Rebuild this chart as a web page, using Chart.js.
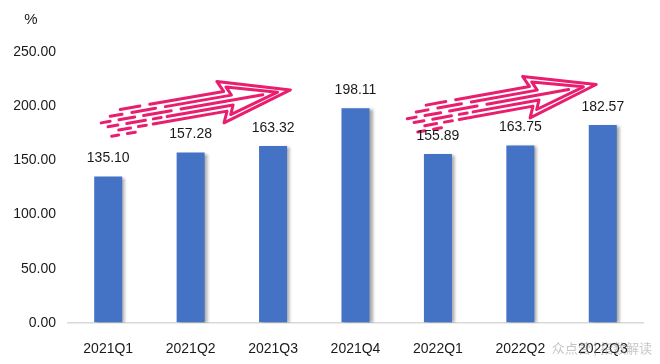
<!DOCTYPE html>
<html>
<head>
<meta charset="utf-8">
<script src="https://cdn.jsdelivr.net/npm/chart.js@4/dist/chart.umd.min.js"></script>
<style>
html,body{margin:0;padding:0;background:#fff;}
#wrap{width:660px;height:364px;}
</style>
</head>
<body>
<div id="wrap"><canvas id="c" width="660" height="364"></canvas></div>
<script>
const categories = ['2021Q1','2021Q2','2021Q3','2021Q4','2022Q1','2022Q2','2022Q3'];
const values = [135.10, 157.28, 163.32, 198.11, 155.89, 163.75, 182.57];
const yTicks = [0, 50, 100, 150, 200, 250];
const unitLabel = '%';
const watermark = '众点营 | 指数解读';
// decorative arrows: [tail category, tail value, tip category, tip value]
const arrows = [[0.02, 186, 2.21, 215], [3.74, 190, 5.92, 220]];

const FONT = '"Liberation Sans", Arial, sans-serif';
const PINK = '#E91E6E';

function drawArrow(ctx, x0, y0, x1, y1) {
  const L = Math.hypot(x1 - x0, y1 - y0);
  const ang = Math.atan2(y1 - y0, x1 - x0);
  ctx.save();
  ctx.translate(x0, y0);
  ctx.rotate(ang);
  ctx.strokeStyle = PINK;
  ctx.lineWidth = 3;
  ctx.lineCap = 'round';
  ctx.lineJoin = 'round';
  const hb = L - 66;
  // outer outline
  ctx.beginPath();
  ctx.moveTo(hb - 75, -10);
  ctx.lineTo(hb, -10);
  ctx.lineTo(hb - 5, -21);
  ctx.lineTo(L, 0);
  ctx.lineTo(hb - 5, 21);
  ctx.lineTo(hb, 10);
  ctx.lineTo(hb - 75, 10);
  ctx.stroke();
  // inner outline
  ctx.beginPath();
  ctx.moveTo(hb - 60, -5);
  ctx.lineTo(hb + 7, -5);
  ctx.lineTo(hb + 3, -14);
  ctx.lineTo(L - 13, 0);
  ctx.lineTo(hb + 3, 14);
  ctx.lineTo(hb + 7, 5);
  ctx.lineTo(hb - 60, 5);
  ctx.stroke();
  // centre line
  ctx.beginPath();
  ctx.moveTo(hb - 45, 0);
  ctx.lineTo(L - 28, 0);
  ctx.stroke();
  // tail dashes
  const rows = [
    [-10, [[hb - 105, hb - 85]]],
    [-5, [[hb - 116, hb - 104], [hb - 94, hb - 70]]],
    [0, [[hb - 126, hb - 117], [hb - 108, hb - 92], [hb - 83, hb - 55]]],
    [5, [[hb - 120, hb - 110], [hb - 101, hb - 82], [hb - 74, hb - 66]]],
    [10, [[hb - 110, hb - 98], [hb - 90, hb - 82]]],
    [15, [[hb - 118, hb - 111], [hb - 102, hb - 94]]]
  ];
  rows.forEach(([v, segs]) => {
    segs.forEach(([a, b]) => {
      ctx.beginPath();
      ctx.moveTo(a, v);
      ctx.lineTo(b, v);
      ctx.stroke();
    });
  });
  ctx.restore();
}

const decoPlugin = {
  id: 'deco',
  beforeDatasetsDraw(chart) {
    const ctx = chart.ctx;
    const xs = chart.scales.x, ys = chart.scales.y;
    const step = xs.getPixelForValue(1) - xs.getPixelForValue(0);
    arrows.forEach(([c0, v0, c1, v1]) => {
      const x0 = xs.getPixelForValue(0) + c0 * step;
      const x1 = xs.getPixelForValue(0) + c1 * step;
      drawArrow(ctx, x0, ys.getPixelForValue(v0), x1, ys.getPixelForValue(v1));
    });
    ctx.save();
    ctx.shadowColor = 'rgba(0,0,0,0.35)';
    ctx.shadowOffsetX = 3;
    ctx.shadowOffsetY = 1;
    ctx.shadowBlur = 3;
  },
  afterDatasetsDraw(chart) {
    const ctx = chart.ctx;
    ctx.restore();
    ctx.save();
    ctx.fillStyle = '#1a1a1a';
    ctx.font = '14px ' + FONT;
    ctx.textAlign = 'center';
    ctx.textBaseline = 'bottom';
    chart.getDatasetMeta(0).data.forEach((bar, i) => {
      ctx.fillText(values[i].toFixed(2), bar.x, bar.y - 11);
    });
    ctx.textAlign = 'center';
    ctx.textBaseline = 'middle';
    ctx.font = '15px ' + FONT;
    ctx.fillText(unitLabel, 31, 20);
    ctx.fillStyle = 'rgba(150,150,150,0.55)';
    ctx.font = '13px "Noto Sans CJK SC", sans-serif';
    ctx.textAlign = 'right';
    ctx.fillText(watermark, 652, 348);
    ctx.restore();
  }
};

new Chart(document.getElementById('c'), {
  type: 'bar',
  data: {
    labels: categories,
    datasets: [{
      data: values,
      backgroundColor: '#4472C4',
      borderWidth: 0,
      categoryPercentage: 1,
      barPercentage: 0.34
    }]
  },
  options: {
    responsive: false,
    animation: false,
    devicePixelRatio: 1,
    layout: { padding: { top: 52, right: 16, left: 0, bottom: 0 } },
    plugins: { legend: { display: false }, tooltip: { enabled: false } },
    scales: {
      x: {
        grid: { display: false },
        border: { display: false },
        ticks: { color: '#1a1a1a', font: { size: 14, family: FONT }, padding: 10, maxRotation: 0 },
        afterFit(s) { s.height = 41; }
      },
      y: {
        min: 0, max: 250,
        afterBuildTicks(s) { s.ticks = yTicks.map(v => ({ value: v })); },
        grid: {
          drawTicks: false,
          color: ctx => (ctx.tick && ctx.tick.value === 0) ? '#d9d9d9' : 'rgba(0,0,0,0)',
          lineWidth: 1.5
        },
        border: { display: false },
        ticks: {
          color: '#1a1a1a', font: { size: 14, family: FONT }, padding: 11,
          callback: v => Number(v).toFixed(2)
        },
        afterFit(s) { s.width = 67; }
      }
    }
  },
  plugins: [decoPlugin]
});
</script>
</body>
</html>
